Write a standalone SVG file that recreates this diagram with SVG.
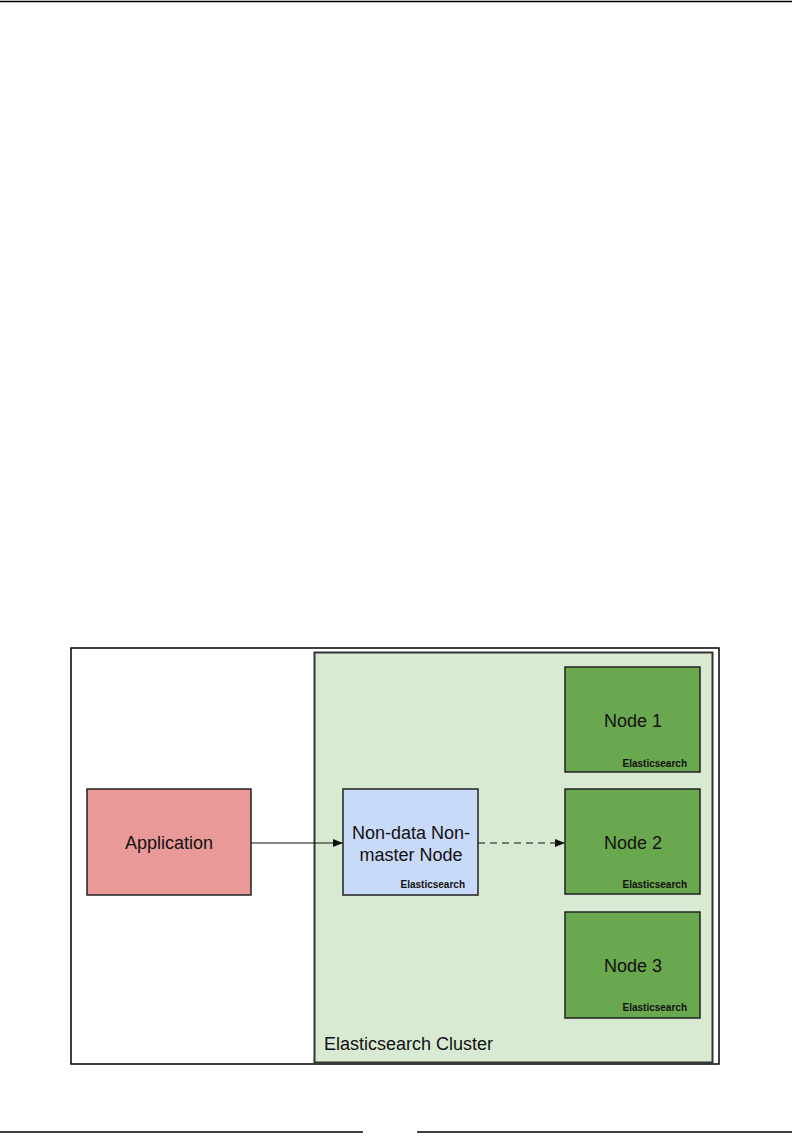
<svg xmlns="http://www.w3.org/2000/svg" width="792" height="1142" viewBox="0 0 792 1142">
<style>
.box{stroke:#222;stroke-width:1.5}
.t{font-family:"Liberation Sans",Arial,sans-serif;font-size:18px;fill:#111}
.s{font-family:"Liberation Sans",Arial,sans-serif;font-size:10px;font-weight:bold;fill:#111;text-anchor:end}
.m{text-anchor:middle}
.c{stroke:#111;stroke-width:1.2;fill:none}
</style>
<defs>
<marker id="ah" markerWidth="10" markerHeight="8" refX="9" refY="4" orient="auto" markerUnits="userSpaceOnUse">
<path d="M0,0 L10,4 L0,8 Z" fill="#111"/>
</marker>
</defs>
<rect width="792" height="1142" fill="#fff"/>
<line x1="0" y1="1.5" x2="792" y2="1.5" stroke="#000" stroke-width="1.5"/>
<line x1="0" y1="1132" x2="363" y2="1132" stroke="#000" stroke-width="1.5"/>
<line x1="417" y1="1132" x2="792" y2="1132" stroke="#000" stroke-width="1.5"/>
<rect x="71" y="648" width="648" height="416" fill="#fff" stroke="#000" stroke-width="1.5"/>
<g id="cluster">
<rect x="314.5" y="652.5" width="398" height="410" fill="#d9ead3" stroke="#333" stroke-width="2"/>
<text class="t" x="324" y="1050">Elasticsearch Cluster</text>
</g>
<g id="application">
<rect class="box" x="87" y="789" width="164" height="106" fill="#ea9999"/>
<text class="t m" x="169" y="849">Application</text>
</g>
<g id="nondata">
<rect class="box" x="343" y="789" width="135" height="106" fill="#c9daf8"/>
<text class="t m" x="411" y="839">Non-data Non-</text>
<text class="t m" x="411" y="861">master Node</text>
<text class="s" x="465" y="888">Elasticsearch</text>
</g>
<g id="node1">
<rect class="box" x="565" y="667" width="135" height="105" fill="#6aa84f"/>
<text class="t m" x="633" y="727">Node 1</text>
<text class="s" x="687" y="767">Elasticsearch</text>
</g>
<g id="node2">
<rect class="box" x="565" y="789" width="135" height="105" fill="#6aa84f"/>
<text class="t m" x="633" y="849">Node 2</text>
<text class="s" x="687" y="888">Elasticsearch</text>
</g>
<g id="node3">
<rect class="box" x="565" y="912" width="135" height="106" fill="#6aa84f"/>
<text class="t m" x="633" y="972">Node 3</text>
<text class="s" x="687" y="1011">Elasticsearch</text>
</g>
<g id="connectors">
<line class="c" x1="251" y1="843" x2="342" y2="843" marker-end="url(#ah)"/>
<line class="c" x1="478" y1="843" x2="564" y2="843" stroke-dasharray="7,5" marker-end="url(#ah)"/>
</g>
</svg>
